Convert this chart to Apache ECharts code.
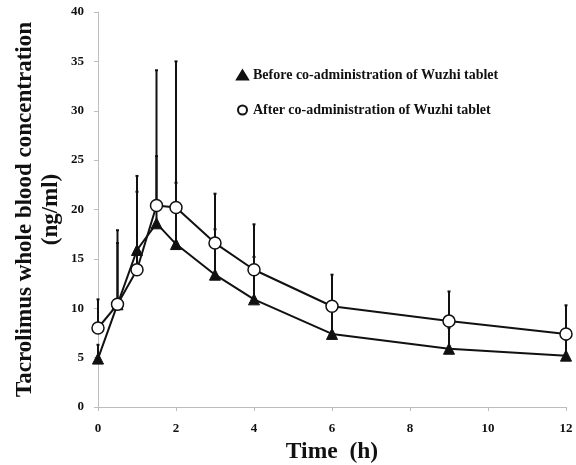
<!DOCTYPE html>
<html>
<head>
<meta charset="utf-8">
<script src="https://cdn.jsdelivr.net/npm/echarts@6/dist/echarts.min.js"></script>
<style>
  html, body {margin: 0; padding: 0; background: #fff;}
  #chart {width: 576px; height: 465px;}
</style>
</head>
<body>
<div id="chart"></div>
<script>
// DATA POINTS
const times = [0, 0.5, 1, 1.5, 2, 3, 4, 6, 9, 12];
const before_mean = [4.9, 10.4, 15.9, 18.6, 16.5, 13.4, 10.9, 7.4, 5.9, 5.2];
const before_upper = [6.3, 16.6, 23.4, 25.4, 22.7, 18.0, 15.2, 9.9, 8.0, 6.8];
const after_mean = [8.0, 10.4, 13.9, 20.4, 20.2, 16.6, 13.9, 10.2, 8.7, 7.4];
const after_upper = [10.9, 17.9, 21.8, 34.1, 35.0, 21.6, 18.5, 13.4, 11.7, 10.3];
const y_ticks = [0, 5, 10, 15, 20, 25, 30, 35, 40];
const x_ticks = [0, 2, 4, 6, 8, 10, 12];

const before_name = "Before co-administration of Wuzhi tablet";
const after_name = "After co-administration of Wuzhi tablet";
const serif = "Liberation Serif";

function pairs(ys){
  return times.map((t, i) => [t, ys[i]]);
}

// upward error bar with a small cap
function errorBars(means, uppers, name){
  return {
    type: 'custom',
    name: name + " SD",
    z: 1,
    silent: true,
    data: times.map((t, i) => [t, means[i], uppers[i]]),
    renderItem: function(params, api){
      const low = api.coord([api.value(0), api.value(1)]);
      const high = api.coord([api.value(0), api.value(2)]);
      const style = {stroke: '#111', lineWidth: 2};
      return {
        type: 'group',
        children: [
          {type: 'line', shape: {x1: low[0], y1: low[1], x2: high[0], y2: high[1]}, style},
          {type: 'line', shape: {x1: high[0] - 1.5, y1: high[1], x2: high[0] + 1.5, y2: high[1]}, style}
        ]
      };
    }
  };
}

const chart = echarts.init(document.getElementById('chart'), null, {renderer: 'canvas'});
const axisGray = '#bdbdbd';
const labelStyle = {fontFamily: serif, fontWeight: 'bold', fontSize: 13, color: '#111'};

chart.setOption({
  animation: false,
  backgroundColor: '#fff',
  grid: {left: 98, right: 10, top: 12, bottom: 58, outerBoundsMode: 'none'},
  legend: {
    orient: 'vertical', left: 231, top: 63, itemGap: 21, itemWidth: 11, itemHeight: 9,
    textStyle: {fontFamily: serif, fontWeight: 'bold', fontSize: 14, color: '#111'},
    data: [{name: before_name, icon: 'triangle'}, {name: after_name, icon: 'circle'}]
  },
  xAxis: {
    type: 'value', min: 0, max: 12, interval: 2,
    name: 'Time  (h)', nameLocation: 'middle', nameGap: 33, nameMoveOverlap: false,
    nameTextStyle: {fontFamily: serif, fontWeight: 'bold', fontSize: 23.5, color: '#111'},
    axisLine: {lineStyle: {color: axisGray}},
    axisTick: {show: true, lineStyle: {color: axisGray}, length: 4},
    axisLabel: Object.assign({margin: 15, formatter: v => x_ticks.includes(v) ? v : ''}, labelStyle),
    splitLine: {show: false}
  },
  yAxis: {
    type: 'value', min: 0, max: 40, interval: 5,
    name: 'Tacrolimus whole blood concentration\n(ng/ml)', nameLocation: 'middle', nameGap: 34, nameMoveOverlap: false,
    nameTextStyle: {fontFamily: serif, fontWeight: 'bold', fontSize: 23, color: '#111', lineHeight: 26},
    axisLine: {show: true, lineStyle: {color: axisGray}},
    axisTick: {show: true, lineStyle: {color: axisGray}, length: 4},
    axisLabel: Object.assign({margin: 14, formatter: v => y_ticks.includes(v) ? v : ''}, labelStyle),
    splitLine: {show: false}
  },
  series: [
    errorBars(before_mean, before_upper, before_name),
    errorBars(after_mean, after_upper, after_name),
    {
      type: 'line', name: before_name, data: pairs(before_mean), z: 3,
      symbol: 'triangle', symbolSize: 11,
      lineStyle: {color: '#111', width: 2},
      itemStyle: {color: '#111', borderColor: '#111', borderWidth: 1}
    },
    {
      type: 'line', name: after_name, data: pairs(after_mean), z: 4,
      symbol: 'circle', symbolSize: 12,
      lineStyle: {color: '#111', width: 2},
      itemStyle: {color: '#fff', borderColor: '#111', borderWidth: 1.5}
    }
  ]
});
</script>
</body>
</html>
